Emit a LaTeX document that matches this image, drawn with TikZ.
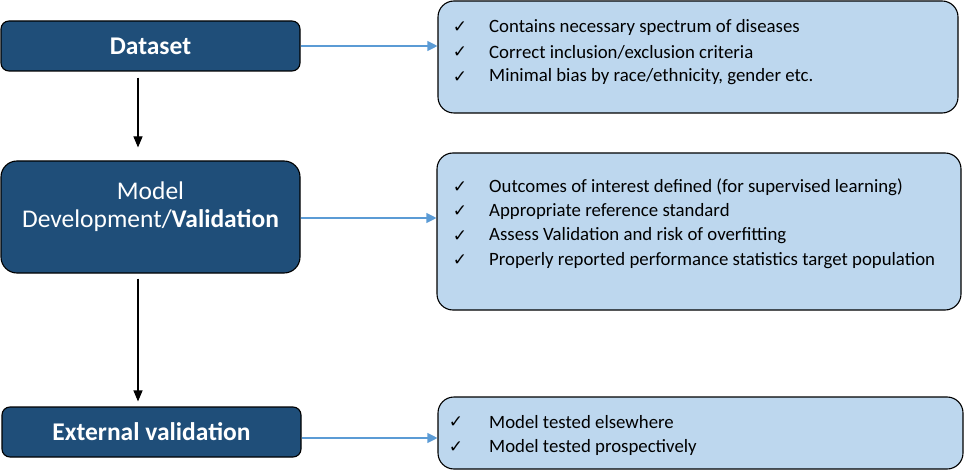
\documentclass[tikz,border=0pt]{standalone}
\usepackage{fontspec}
\setmainfont{Carlito}
\newfontfamily\symfont{DejaVu Sans}
\usetikzlibrary{arrows.meta}
\definecolor{darkbox}{HTML}{1F4E79}
\definecolor{lightbox}{HTML}{BDD7EE}
\definecolor{bluearrow}{HTML}{5B9BD5}
\begin{document}
\begin{tikzpicture}[x=1pt,y=-1pt,
  stagebox/.style={draw=black,line width=1.1pt,fill=darkbox,text=white,rounded corners=8pt,
    minimum width=299pt,align=center,font=\fontsize{25.5}{30}\selectfont,inner sep=0pt},
  listbox/.style={draw=black,line width=1.1pt,fill=lightbox,rounded corners=16pt,inner sep=0pt},
  itemtext/.style={anchor=west,font=\fontsize{18.8}{22}\selectfont,inner sep=0pt},
  tick/.style={font=\symfont\fontsize{17}{19}\selectfont,inner sep=0pt},
  bluearr/.style={draw=bluearrow,line width=1.1pt,-{Triangle[length=10pt,width=10pt]}},
  blackarr/.style={draw=black,line width=1.1pt,-{Triangle[length=11pt,width=9pt]}}]
\useasboundingbox (0,0) rectangle (965,470);

% stage boxes
\node[stagebox,minimum height=50pt] (ds) at (150.5,46) {\bfseries Dataset};
\node[stagebox,minimum height=112pt,rounded corners=16pt] (md) at (150.5,217) {};
\node[font=\fontsize{25.5}{30}\selectfont,text=white,inner sep=0pt] (mdA) at (150.5,191) {Model};
\node[font=\fontsize{25.5}{30}\selectfont,text=white,inner sep=0pt] (mdB) at (150.5,221) {Development/\textbf{Validation}};
\node[stagebox,minimum height=50pt] (ex) at (151.5,432) {\bfseries External validation};

% list boxes
\node[listbox,minimum width=520pt,minimum height=112pt] (r1) at (698,57) {};
\node[listbox,minimum width=524pt,minimum height=157pt] (r2) at (699,231.5) {};
\node[listbox,minimum width=525pt,minimum height=72pt] (r3) at (700.5,433) {};

% list items box 1
\node[tick] (t11) at (460,27) {✓};
\node[itemtext] (i11) at (489,27) {Contains necessary spectrum of diseases};
\node[tick] (t12) at (460,52) {✓};
\node[itemtext] (i12) at (489,52) {Correct inclusion/exclusion criteria};
\node[tick] (t13) at (460,77) {✓};
\node[itemtext] (i13) at (489,77) {Minimal bias by race/ethnicity, gender etc.};

% list items box 2
\node[tick] (t21) at (460,187) {✓};
\node[itemtext] (i21) at (489,187) {Outcomes of interest defined (for supervised learning)};
\node[tick] (t22) at (460,211.5) {✓};
\node[itemtext] (i22) at (489,211.5) {Appropriate reference standard};
\node[tick] (t23) at (460,236) {✓};
\node[itemtext] (i23) at (489,236) {Assess Validation and risk of overfitting};
\node[tick] (t24) at (460,260.5) {✓};
\node[itemtext] (i24) at (489,260.5) {Properly reported performance statistics target population};

% list items box 3
\node[tick] (t31) at (456,422) {✓};
\node[itemtext] (i31) at (489,422) {Model tested elsewhere};
\node[tick] (t32) at (456,447) {✓};
\node[itemtext] (i32) at (489,447) {Model tested prospectively};

% connectors
\draw[bluearr] (ds.east) -- (ds.east -| r1.west);
\draw[bluearr] ([yshift=-1pt]md.east) -- ([yshift=-1pt]md.east -| r2.west);
\draw[bluearr] ([yshift=-6pt]ex.east) -- ([yshift=-6pt]ex.east -| r3.west);
\draw[blackarr] ([xshift=-12.5pt,yshift=-6pt]ds.south) -- ([xshift=-12.5pt,yshift=13pt]md.north);
\draw[blackarr] ([xshift=-12.5pt,yshift=-5pt]md.south) -- ([xshift=-13.5pt,yshift=5pt]ex.north);
\end{tikzpicture}
\end{document}
